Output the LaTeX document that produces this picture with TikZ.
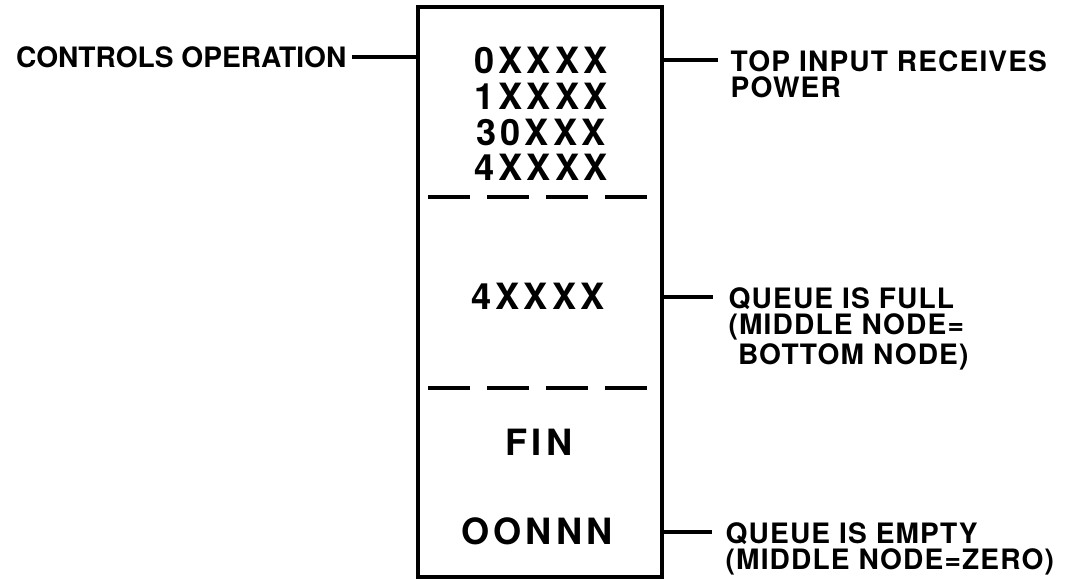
\documentclass[tikz,border=0pt]{standalone}
\usepackage{fontspec}
\setmainfont{TeX Gyre Heros}
\newfontfamily\cellfont[LetterSpace=11]{TeX Gyre Heros}
\newfontfamily\notefont[LetterSpace=4]{TeX Gyre Heros}
\usetikzlibrary{positioning}

\begin{document}
\begin{tikzpicture}[
  cell/.style={font=\cellfont\bfseries\fontsize{10.3}{10.2}\selectfont, align=center, inner sep=0pt},
  note/.style={font=\notefont\bfseries\fontsize{8}{7.4}\selectfont, align=left, inner sep=0.05cm},
  frame/.style={draw, line width=1.3pt},
  divider/.style={line width=1.1pt, dash pattern=on 0.42cm off 0.17cm},
  wire/.style={line width=0.9pt}
]
\useasboundingbox (0,0) rectangle (10.8,-5.8);

% the queue block
\node[frame, minimum width=2.44cm, minimum height=5.70cm, inner sep=0pt] (queue) at (5.40,-2.92) {};

\node[cell] (ops) at (5.41,-1.14) {0XXXX\\1XXXX\\30XXX\\4XXXX};
\node[cell] (mid) at (5.38,-2.96) {4XXXX};
\node[cell] (fin) at (5.39,-4.42) {FIN};
\node[cell] (bot) at (5.37,-5.31) {OONNN};

\draw[divider] (4.28,-1.97) -- (6.49,-1.97);
\draw[divider] (4.28,-3.88) -- (6.49,-3.88);

% notes
\node[note, anchor=east, font=\bfseries\fontsize{8}{7.4}\selectfont] (ctl) at (3.52,-0.57) {CONTROLS OPERATION};
\node[note, anchor=north west] (top) at (7.25,-0.45) {TOP INPUT RECEIVES\\POWER};
\node[note, anchor=north west] (full) at (7.23,-2.82) {QUEUE IS FULL\\(MIDDLE NODE=\\\phantom{(}BOTTOM NODE)};
\node[note, anchor=north west] (empty) at (7.20,-5.17) {QUEUE IS EMPTY\\(MIDDLE NODE=ZERO)};

\coordinate (topend) at (7.18,-0.60);
\coordinate (fullend) at (7.13,-2.97);
\coordinate (emptyend) at (7.12,-5.32);

\draw[wire] (ctl.east) -- (ctl.east -| queue.west);
\draw[wire] (queue.east |- topend) -- (topend);
\draw[wire] (queue.east |- fullend) -- (fullend);
\draw[wire] (queue.east |- emptyend) -- (emptyend);
\end{tikzpicture}
\end{document}
